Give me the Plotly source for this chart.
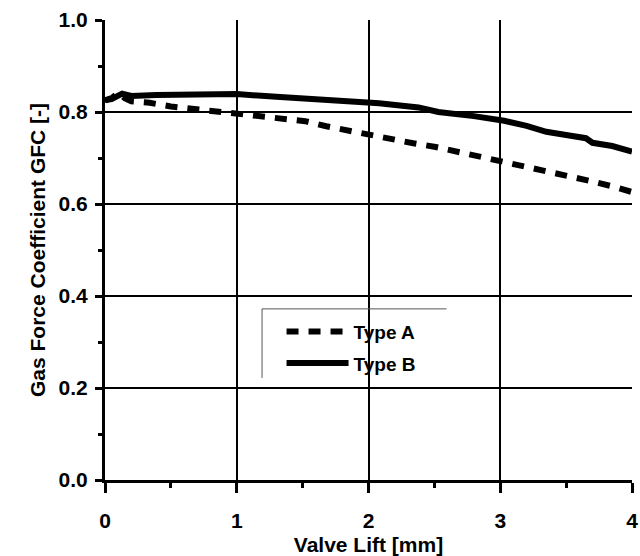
import plotly.graph_objects as go

# Data
type_a_x = [0, 0.05, 0.1, 0.15, 0.2, 0.34, 0.5, 0.68, 0.85, 1.0, 1.18, 1.34, 1.52, 1.68,
            1.85, 2.0, 2.17, 2.34, 2.51, 2.69, 2.86, 3.03, 3.19, 3.36, 3.53, 3.70, 3.87, 4.0]
type_a_y = [0.825, 0.83, 0.842, 0.83, 0.823, 0.82, 0.812, 0.806, 0.80, 0.797, 0.792, 0.786,
            0.78, 0.769, 0.759, 0.75, 0.743, 0.732, 0.724, 0.713, 0.701, 0.692, 0.681, 0.672,
            0.662, 0.649, 0.637, 0.626]

type_b_x = [0, 0.05, 0.13, 0.2, 0.39, 0.64, 1.0, 1.3, 1.65, 2.0, 2.08, 2.38, 2.53, 2.8,
            3.03, 3.2, 3.35, 3.5, 3.65, 3.7, 3.85, 4.0]
type_b_y = [0.826, 0.828, 0.84, 0.835, 0.837, 0.839, 0.839, 0.833, 0.828, 0.82, 0.819,
            0.81, 0.80, 0.791, 0.781, 0.77, 0.757, 0.75, 0.743, 0.733, 0.726, 0.714]

x_ticks = [0, 1, 2, 3, 4]
y_ticks = [0.0, 0.2, 0.4, 0.6, 0.8, 1.0]
y_tick_labels = ["0.0", "0.2", "0.4", "0.6", "0.8", "1.0"]

FONT = "Liberation Sans, Arial, sans-serif"
TICKFONT = dict(family=FONT, size=21, color="black", weight="bold")
TITLEFONT = dict(family=FONT, size=21, color="black", weight="bold")

fig = go.Figure()
fig.add_trace(go.Scatter(x=type_a_x, y=type_a_y, mode="lines", name="Type A",
                         legendgroup="a",
                         line=dict(color="black", width=6, dash="12px,10px")))
fig.add_trace(go.Scatter(x=type_b_x, y=type_b_y, mode="lines", name="Type B",
                         legendgroup="b",
                         line=dict(color="black", width=6)))

axis_common = dict(showline=True, linecolor="black", linewidth=3,
                   showgrid=True, gridcolor="black", gridwidth=2,
                   zeroline=False, tickfont=TICKFONT, automargin=False)

fig.update_layout(
    width=640, height=556,
    margin=dict(l=105, r=8, t=20, b=76),
    paper_bgcolor="white", plot_bgcolor="white",
    showlegend=True,
    legend=dict(x=0.335, y=0.364, xanchor="left", yanchor="top",
                bgcolor="rgba(0,0,0,0)", borderwidth=0,
                itemwidth=62, tracegroupgap=4,
                font=dict(family=FONT, size=19, color="black", weight="bold")),
    xaxis=dict(range=[0, 4], tickvals=x_ticks, ticks="outside", ticklen=10, tickwidth=3,
               tickcolor="black", ticklabelstandoff=10,
               minor=dict(dtick=0.5, ticks="outside", ticklen=5, tickwidth=3, tickcolor="black",
                          showgrid=False),
               title=dict(text="Valve Lift [mm]", standoff=14, font=TITLEFONT),
               **axis_common),
    yaxis=dict(range=[0, 1], tickvals=y_ticks, ticktext=y_tick_labels, ticks="outside",
               ticklen=7, tickwidth=3, tickcolor="black", ticklabelstandoff=3,
               minor=dict(dtick=0.1, ticks="outside", ticklen=4, tickwidth=3, tickcolor="black",
                          showgrid=False),
               title=dict(text="Gas Force Coefficient GFC [-]", standoff=8, font=TITLEFONT),
               **axis_common),
    xaxis2=dict(range=[0, 4], overlaying="x", side="top", anchor="y", showline=True,
                linecolor="black", linewidth=3, showgrid=False, zeroline=False,
                showticklabels=False, tickvals=x_ticks, ticks="inside", ticklen=6,
                tickwidth=3, tickcolor="black", automargin=False,
                minor=dict(dtick=0.5, ticks="inside", ticklen=5, tickwidth=3,
                           tickcolor="black")),
    yaxis2=dict(range=[0, 1], overlaying="y", side="right", anchor="x", showline=True,
                linecolor="black", linewidth=3, showgrid=False, zeroline=False,
                showticklabels=False, tickvals=y_ticks, ticks="inside", ticklen=6,
                tickwidth=3, tickcolor="black", automargin=False,
                minor=dict(dtick=0.1, ticks="inside", ticklen=5, tickwidth=3,
                           tickcolor="black")),
    shapes=[
        dict(type="line", xref="paper", yref="paper", x0=0.298, x1=0.648, y0=0.372, y1=0.372,
             line=dict(color="#555555", width=1)),
        dict(type="line", xref="paper", yref="paper", x0=0.298, x1=0.298, y0=0.372, y1=0.222,
             line=dict(color="#555555", width=1)),
    ],
)

fig.write_html("out.html")
